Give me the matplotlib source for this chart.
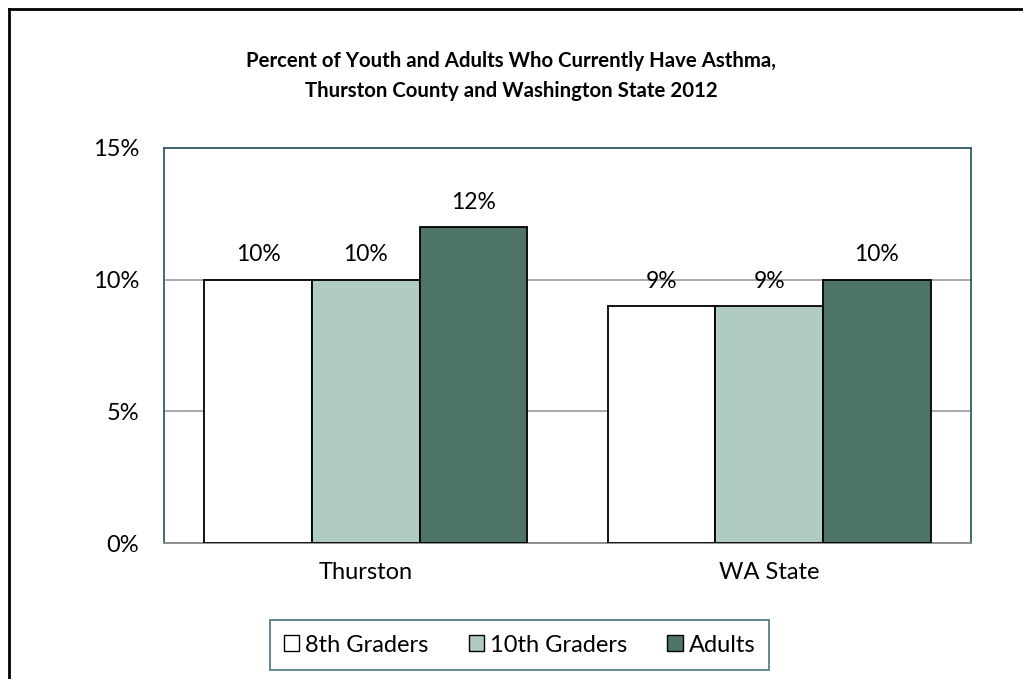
import matplotlib.pyplot as plt
import numpy as np
from matplotlib.lines import Line2D
from matplotlib.ticker import FuncFormatter

plt.rcParams['font.family'] = ['Lato', 'DejaVu Sans']

# data
places = ['Thurston', 'WA State']
groups = ['8th Graders', '10th Graders', 'Adults']
values = {
    '8th Graders': [10, 9],
    '10th Graders': [10, 9],
    'Adults': [12, 10],
}
colors = ['#FFFFFF', '#B0CAC4', '#4E7369']
yticks = [0, 5, 10, 15]

fig = plt.figure(figsize=(10.23, 6.79), dpi=100)
ax = fig.add_axes([164 / 1023, 1 - 543 / 679, (971 - 164) / 1023, (543 - 148) / 679])

x = np.arange(len(places))
w = 0.8 / 3
for i, g in enumerate(groups):
    pos = x + (i - 1) * w
    bars = ax.bar(pos, values[g], width=w, color=colors[i], edgecolor='black',
                  linewidth=1.3, zorder=3, label=g)
    for b, v in zip(bars, values[g]):
        ax.text(b.get_x() + b.get_width() / 2, v + 0.55, f'{v}%', ha='center',
                va='bottom', fontsize=16.5)

ax.set_xlim(-0.5, 1.5)
ax.set_ylim(0, 15)
ax.set_yticks(yticks)
ax.yaxis.set_major_formatter(FuncFormatter(lambda v, p: f'{v:.0f}%'))
ax.set_xticks(x)
ax.set_xticklabels(places)
ax.tick_params(axis='both', length=0, labelsize=17)
ax.tick_params(axis='y', pad=18)
ax.tick_params(axis='x', pad=14)
ax.grid(axis='y', color='#999999', linewidth=1.2, zorder=0)
for s in ax.spines.values():
    s.set_color('#2F5F6B')
    s.set_linewidth(1.3)
ax.spines['bottom'].set_color('#888888')

fig.text(0.5, 1 - 76 / 679, 'Percent of Youth and Adults Who Currently Have Asthma,\n'
         'Thurston County and Washington State 2012', ha='center', va='center',
         fontsize=14.7, fontweight='bold', linespacing=1.6)

handles = [plt.Rectangle((0, 0), 1, 1, facecolor=c, edgecolor='black', linewidth=1)
           for c in colors]
leg = fig.legend(handles, groups, loc='center', bbox_to_anchor=(519.5 / 1023, 1 - 645 / 679),
                 ncol=3, fontsize=17, frameon=True, fancybox=False,
                 handlelength=0.65, handleheight=0.65, handletextpad=0.25,
                 columnspacing=1.7, borderpad=0.6, borderaxespad=0)
leg.get_frame().set_edgecolor('#2F5F6B')
leg.get_frame().set_linewidth(1.3)

# outer chart border (left and top visible)
fig.add_artist(Line2D([9 / 1023, 9 / 1023], [0, 1 - 9 / 679], color='black', linewidth=2))
fig.add_artist(Line2D([9 / 1023, 1], [1 - 9 / 679, 1 - 9 / 679], color='black', linewidth=2))

fig.savefig('out.png', dpi=100)
